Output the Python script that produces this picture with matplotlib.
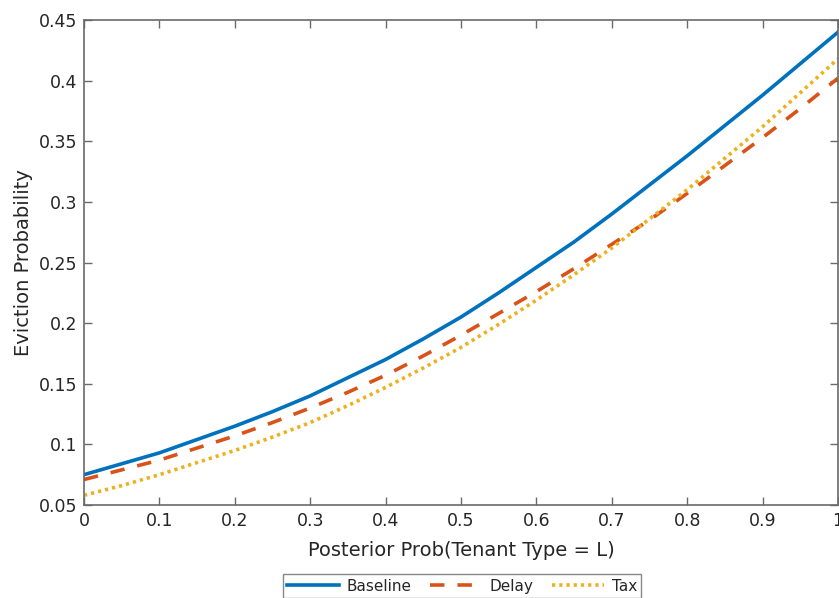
import numpy as np
import matplotlib
matplotlib.use("Agg")
import matplotlib.pyplot as plt

# posterior probability grid and eviction probabilities per policy
posterior = [0.0, 0.05, 0.1, 0.15, 0.2, 0.25, 0.3, 0.35, 0.4, 0.45, 0.5,
             0.55, 0.6, 0.65, 0.7, 0.75, 0.8, 0.85, 0.9, 0.95, 1.0]
baseline = [0.075, 0.084, 0.093, 0.104, 0.115, 0.127, 0.140, 0.155, 0.170, 0.187, 0.205,
            0.225, 0.246, 0.267, 0.290, 0.314, 0.338, 0.363, 0.388, 0.414, 0.440]
delay = [0.071, 0.079, 0.087, 0.097, 0.107, 0.118, 0.130, 0.143, 0.157, 0.173, 0.190,
         0.208, 0.226, 0.245, 0.265, 0.285, 0.307, 0.330, 0.353, 0.377, 0.402]
tax = [0.058, 0.066, 0.075, 0.085, 0.095, 0.106, 0.118, 0.132, 0.147, 0.163, 0.180,
       0.199, 0.219, 0.240, 0.262, 0.286, 0.310, 0.336, 0.362, 0.390, 0.418]

xticks = np.round(np.arange(0, 1.01, 0.1), 1)
xtick_labels = ['0', '0.1', '0.2', '0.3', '0.4', '0.5', '0.6', '0.7', '0.8', '0.9', '1']
yticks = np.round(np.arange(0.05, 0.451, 0.05), 2)
ytick_labels = ['0.05', '0.1', '0.15', '0.2', '0.25', '0.3', '0.35', '0.4', '0.45']

plt.rcParams['font.family'] = 'DejaVu Sans'
text_col = '#262626'
axis_col = '#6a6a6a'

fig = plt.figure(figsize=(8.39, 5.98), dpi=100)
ax = fig.add_axes([84/839, 1 - 505/598, 754/839, 485/598])

ax.plot(posterior, baseline, color='#0072BD', lw=2.6, label='Baseline')
ax.plot(posterior, delay, color='#D95319', lw=2.6, dashes=(4.0, 3.6), label='Delay')
ax.plot(posterior, tax, color='#EDB120', lw=2.6, dashes=(0.9, 1.1), label='Tax')

ax.set_xlim(0, 1)
ax.set_ylim(0.05, 0.45)
ax.set_xticks(xticks)
ax.set_xticklabels(xtick_labels)
ax.set_yticks(yticks)
ax.set_yticklabels(ytick_labels)
ax.tick_params(direction='in', length=6, width=1, colors=axis_col, labelcolor=text_col,
               labelsize=12.5, top=True, right=True, pad=5)
for s in ax.spines.values():
    s.set_color(axis_col)
    s.set_linewidth(1.2)

ax.set_xlabel('Posterior Prob(Tenant Type = L)', fontsize=14, color=text_col, labelpad=8)
ax.set_ylabel('Eviction Probability', fontsize=14, color=text_col, labelpad=4)

leg = fig.legend(loc='upper center', bbox_to_anchor=(462/839, 1 - 574/598), ncol=3,
                 fontsize=11, frameon=True, fancybox=False, handlelength=3.4,
                 columnspacing=1.2, handletextpad=0.5, borderpad=0.3, borderaxespad=0)
leg.get_frame().set_edgecolor(axis_col)
leg.get_frame().set_linewidth(1.0)
for t in leg.get_texts():
    t.set_color(text_col)

plt.savefig('out.png', dpi=100)
